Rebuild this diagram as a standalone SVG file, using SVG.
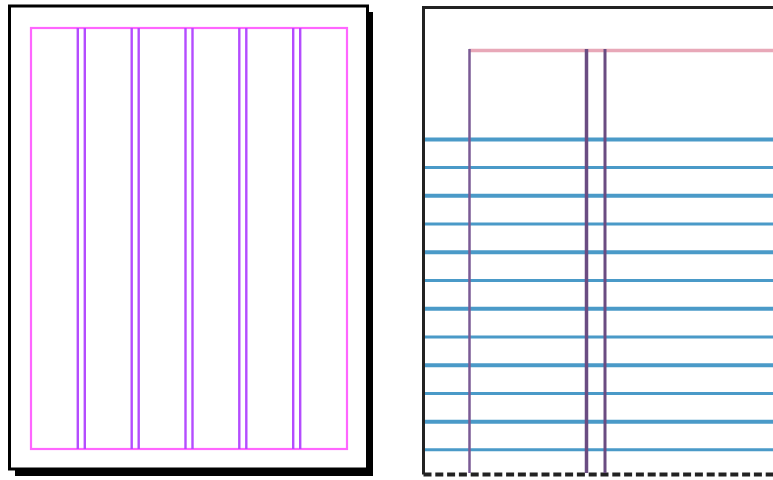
<svg xmlns="http://www.w3.org/2000/svg" width="773" height="480" viewBox="0 0 773 480">
<style>
.mcol{stroke:#b44cff;stroke-width:2.4;fill:none}
.blu{stroke:#4a9ac8}
.thick{stroke-width:4}
.thin{stroke-width:3}
.pv{stroke:#6a4c82;fill:none}
</style>
<rect width="773" height="480" fill="#fff"/>
<g id="left-page">
<rect x="15" y="12" width="358" height="464" fill="#000"/>
<rect x="9.5" y="6" width="358" height="463" fill="#fff" stroke="#000" stroke-width="3"/>
<rect x="31" y="28" width="316" height="421" fill="none" stroke="#ff66ff" stroke-width="2.2"/>
<g class="mcol">
<line x1="77.8" y1="28" x2="77.8" y2="449"/>
<line x1="84.8" y1="28" x2="84.8" y2="449"/>
<line x1="131.7" y1="28" x2="131.7" y2="449"/>
<line x1="138.7" y1="28" x2="138.7" y2="449"/>
<line x1="185.5" y1="28" x2="185.5" y2="449"/>
<line x1="192.5" y1="28" x2="192.5" y2="449"/>
<line x1="239.3" y1="28" x2="239.3" y2="449"/>
<line x1="246.3" y1="28" x2="246.3" y2="449"/>
<line x1="293.2" y1="28" x2="293.2" y2="449"/>
<line x1="300.2" y1="28" x2="300.2" y2="449"/>
</g>
</g>
<g id="right-page">
<path d="M423.5 474.5 V7.5 H775" fill="none" stroke="#222" stroke-width="3"/>
<line x1="423.5" y1="474.5" x2="775" y2="474.5" stroke="#222" stroke-width="4" stroke-dasharray="8 3.8"/>
<line x1="469" y1="50.5" x2="775" y2="50.5" stroke="#e8a8b8" stroke-width="3.5"/>
<g class="blu">
<line class="thick" x1="425" y1="139.5" x2="775" y2="139.5"/>
<line class="thin" x1="425" y1="167.5" x2="775" y2="167.5"/>
<line class="thick" x1="425" y1="195.8" x2="775" y2="195.8"/>
<line class="thin" x1="425" y1="224" x2="775" y2="224"/>
<line class="thick" x1="425" y1="252.3" x2="775" y2="252.3"/>
<line class="thin" x1="425" y1="280.5" x2="775" y2="280.5"/>
<line class="thick" x1="425" y1="308.7" x2="775" y2="308.7"/>
<line class="thin" x1="425" y1="337" x2="775" y2="337"/>
<line class="thick" x1="425" y1="365.2" x2="775" y2="365.2"/>
<line class="thin" x1="425" y1="393.5" x2="775" y2="393.5"/>
<line class="thick" x1="425" y1="421.7" x2="775" y2="421.7"/>
<line class="thin" x1="425" y1="449.8" x2="775" y2="449.8"/>
</g>
<g class="pv">
<line x1="469.5" y1="49" x2="469.5" y2="473" stroke="#7a5a95" stroke-width="2.5"/>
<line x1="586.5" y1="49" x2="586.5" y2="473" stroke-width="3.5"/>
<line x1="605" y1="49" x2="605" y2="473" stroke-width="3"/>
</g>
</g>
</svg>
